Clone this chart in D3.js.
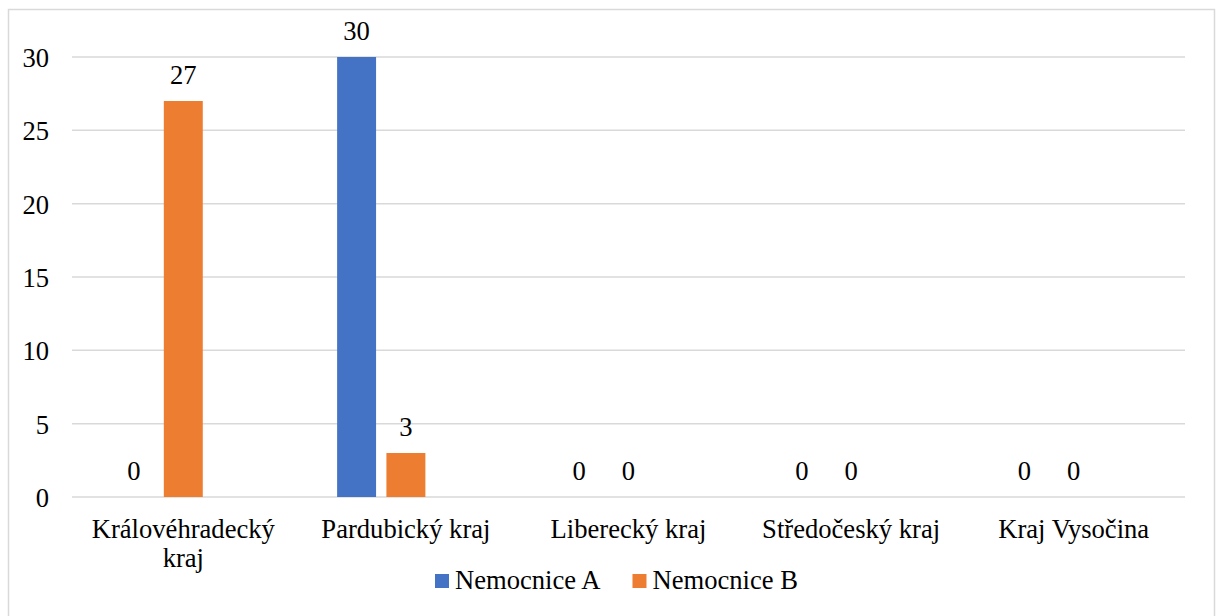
<!DOCTYPE html>
<html>
<head>
<meta charset="utf-8">
<script src="https://cdn.jsdelivr.net/npm/d3@7"></script>
<style>
  body { margin: 0; background: #fff; }
</style>
</head>
<body>
<div id="chart"></div>
<script>
// data
var categories = ["Královéhradecký kraj", "Pardubický kraj", "Liberecký kraj", "Středočeský kraj", "Kraj Vysočina"];
var seriesNames = ["Nemocnice A", "Nemocnice B"];
var valuesA = [0, 30, 0, 0, 0];
var valuesB = [27, 3, 0, 0, 0];
var yTicks = [0, 5, 10, 15, 20, 25, 30];
var colors = ["#4472C4", "#ED7D31"];

var FONT = "'Liberation Serif', 'Times New Roman', serif";
var FONT_SIZE = "26.6px";

var fullWidth = 1219, fullHeight = 616;
var margin = {top: 57, right: 34, bottom: 119, left: 72},
    width = fullWidth - margin.left - margin.right,
    height = fullHeight - margin.top - margin.bottom;

var svg = d3.select("#chart").append("svg")
    .attr("width", fullWidth)
    .attr("height", fullHeight);

// chart frame
svg.append("rect")
    .attr("x", 8.5).attr("y", 9.5)
    .attr("width", 1206).attr("height", 620)
    .attr("fill", "none")
    .attr("stroke", "#d9d9d9")
    .attr("stroke-width", 1.5);

var g = svg.append("g")
    .attr("transform", "translate(" + margin.left + "," + margin.top + ")");

var x0 = d3.scaleBand()
    .domain(categories)
    .range([0, width])
    .paddingInner(0.382)
    .paddingOuter(0.191);

// three slots per group (the third one is empty in the original)
var x1 = d3.scaleBand()
    .domain([0, 1, 2])
    .range([0, x0.bandwidth()])
    .paddingInner(0.21);

var y = d3.scaleLinear()
    .domain([0, 30])
    .range([height, 0]);

// gridlines
g.selectAll(".grid")
    .data(yTicks)
    .enter().append("line")
    .attr("class", "grid")
    .attr("x1", 0)
    .attr("x2", width)
    .attr("y1", function(d) { return y(d); })
    .attr("y2", function(d) { return y(d); })
    .attr("stroke", "#d9d9d9")
    .attr("stroke-width", 1.5);

// y axis labels
var yAxis = d3.axisLeft(y).tickValues(yTicks).tickSize(0).tickPadding(23);
var yg = g.append("g")
    .attr("class", "y axis")
    .call(yAxis);
yg.select(".domain").remove();
yg.attr("font-family", null).attr("font-size", null);
yg.selectAll("text")
    .attr("dy", "0.36em")
    .attr("fill", "#000")
    .style("font-size", FONT_SIZE)
    .style("font-family", FONT);

var series = [valuesA, valuesB];

series.forEach(function(vals, si) {
    var bars = g.selectAll(".bar-s" + si)
        .data(vals)
        .enter();

    bars.append("rect")
        .attr("class", "bar-s" + si)
        .attr("x", function(d, i) { return x0(categories[i]) + x1(si); })
        .attr("y", function(d) { return y(d); })
        .attr("width", x1.bandwidth())
        .attr("height", function(d) { return height - y(d); })
        .attr("fill", colors[si]);

    bars.append("text")
        .attr("class", "label-s" + si)
        .attr("x", function(d, i) { return x0(categories[i]) + x1(si) + x1.bandwidth() / 2; })
        .attr("y", function(d) { return y(d) - 17; })
        .attr("text-anchor", "middle")
        .style("font-size", FONT_SIZE)
        .style("font-family", FONT)
        .text(function(d) { return d; });
});

// category labels, wrapped to the band like Excel does
var xAxis = d3.axisBottom(x0).tickSize(0).tickPadding(0);
var xg = g.append("g")
    .attr("class", "x axis")
    .attr("transform", "translate(0," + height + ")")
    .call(xAxis);
xg.select(".domain").remove();
xg.attr("font-family", null).attr("font-size", null);
xg.selectAll("text")
    .attr("fill", "#000")
    .style("font-size", FONT_SIZE)
    .style("font-family", FONT)
    .attr("dy", null)
    .attr("y", 41)
    .each(function(d) {
        var t = d3.select(this);
        var words = d.split(" ");
        t.text(d);
        if (this.getComputedTextLength() > x0.step() - 10 && words.length > 1) {
            t.text(null);
            t.append("tspan").attr("x", 0).attr("y", 41).text(words.slice(0, -1).join(" "));
            t.append("tspan").attr("x", 0).attr("y", 70).text(words[words.length - 1]);
        }
    });

// legend
var legend = svg.append("g").attr("class", "legend");
var lx = 435;
seriesNames.forEach(function(name, i) {
    var item = legend.append("g").attr("transform", "translate(" + lx + ",0)");
    item.append("rect")
        .attr("x", 0).attr("y", 574)
        .attr("width", 14).attr("height", 14)
        .attr("fill", colors[i]);
    var txt = item.append("text")
        .attr("x", 20).attr("y", 589)
        .style("font-size", FONT_SIZE)
        .style("font-family", FONT)
        .text(name);
    lx += 20 + txt.node().getComputedTextLength() + 32;
});
</script>
</body>
</html>
